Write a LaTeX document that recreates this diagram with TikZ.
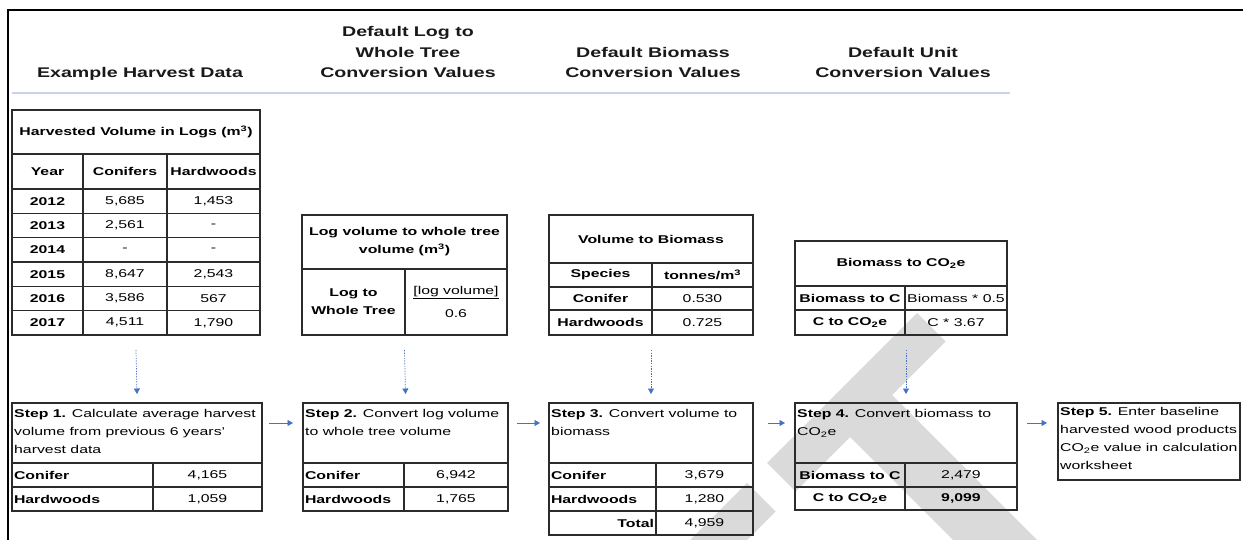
\documentclass[tikz,border=0pt]{standalone}
\usepackage{fontspec}
\setmainfont{Liberation Sans}[FakeStretch=1.4]
\usetikzlibrary{arrows.meta}
\definecolor{arrowblue}{HTML}{4472C4}
\definecolor{ruleblue}{HTML}{C5D3EC}
\definecolor{gridcol}{HTML}{2B2B2B}
\definecolor{wmgray}{HTML}{DADADA}
\newcommand\myhdr{\fontsize{14}{21}\selectfont\bfseries}
\newcommand\mytab{\fontsize{11.3}{18}\selectfont}
\newcommand\ccell[7][]{\node[cell,minimum width=#5pt,minimum height=#6pt,#1] (#2) at (#3,#4) {#7};}
\newcommand\acell[8][]{\pgfmathsetmacro\cw{#5-4}\node[cell,text width=\cw pt,minimum height=#6pt,align=#7,#1] (#2) at (#3,#4) {#8};}
\begin{document}
\begin{tikzpicture}[x=1pt,y=-1pt,
  cell/.style={draw=gridcol,line width=1.1pt,anchor=north west,inner xsep=2pt,inner ysep=1pt,outer sep=0pt,font=\mytab,align=center,text=black},
  bf/.style={font=\mytab\bfseries},
  boxnode/.style={draw=gridcol,line width=1.1pt,anchor=north west,inner sep=0pt,outer sep=0pt},
  tabbox/.style={anchor=north west,inner sep=0pt,outer sep=0pt},
  steptext/.style={anchor=north west,align=left,inner sep=0pt,font=\mytab,text=black},
  hdr/.style={anchor=base,inner sep=0pt,font=\myhdr,text=black!90},
  darrow/.style={draw=arrowblue,line width=0.7pt,dash pattern=on 1.3pt off 1.3pt,-{Triangle[length=5.5pt,width=6pt,fill=arrowblue]}},
  harrow/.style={draw=arrowblue,line width=0.9pt,-{Triangle[length=5.5pt,width=6pt,fill=arrowblue]}},
  frame/.style={draw=black,line width=2pt},
  watermark/.style={fill=wmgray}
]
\useasboundingbox[fill=white] (0,0) rectangle (1243,540);
% watermark letters (partial "F" and "T", rotated)
\fill[watermark] (690,540) -- (747,483) -- (775.5,511.5) -- (747,540) -- cycle;
\fill[watermark] (767,463) -- (917,313) -- (945.5,341.5) -- (892,395) -- (1037,540) -- (953,540) -- (850,437) -- (795.5,491.5) -- cycle;
% page frame
\draw[frame] (8,540) -- (8,10) -- (1243,10);
% headers
\node[hdr] (h1) at (140,78) {Example Harvest Data};
\node[hdr] (h2a) at (408,37) {Default Log to};
\node[hdr] (h2b) at (408,58) {Whole Tree};
\node[hdr] (h2c) at (408,78) {Conversion Values};
\node[hdr] (h3a) at (653,58) {Default Biomass};
\node[hdr] (h3b) at (653,78) {Conversion Values};
\node[hdr] (h4a) at (903,58) {Default Unit};
\node[hdr] (h4b) at (903,78) {Conversion Values};
\draw[draw=ruleblue,line width=1.5pt] (12,93) -- (1010,93);

% table 1
\node[tabbox,minimum width=248pt,minimum height=225pt] (tab1) at (12,110) {};
\ccell[bf]{t1title}{12}{110}{248}{44}{Harvested Volume in Logs (m\textsuperscript{3})}
\ccell[bf]{t1year}{12}{154}{71}{35}{Year}
\ccell[bf]{t1conif}{83}{154}{84}{35}{Conifers}
\ccell[bf]{t1hard}{167}{154}{93}{35}{Hardwoods}
\ccell[bf]{t1y12}{12}{189}{71}{24.33}{2012}
\ccell{t1c12}{83}{189}{84}{24.33}{5,685}
\ccell{t1h12}{167}{189}{93}{24.33}{1,453}
\ccell[bf]{t1y13}{12}{213.33}{71}{24.33}{2013}
\ccell{t1c13}{83}{213.33}{84}{24.33}{2,561}
\ccell{t1h13}{167}{213.33}{93}{24.33}{-}
\ccell[bf]{t1y14}{12}{237.67}{71}{24.33}{2014}
\ccell{t1c14}{83}{237.67}{84}{24.33}{-}
\ccell{t1h14}{167}{237.67}{93}{24.33}{-}
\ccell[bf]{t1y15}{12}{262}{71}{24.33}{2015}
\ccell{t1c15}{83}{262}{84}{24.33}{8,647}
\ccell{t1h15}{167}{262}{93}{24.33}{2,543}
\ccell[bf]{t1y16}{12}{286.33}{71}{24.33}{2016}
\ccell{t1c16}{83}{286.33}{84}{24.33}{3,586}
\ccell{t1h16}{167}{286.33}{93}{24.33}{567}
\ccell[bf]{t1y17}{12}{310.67}{71}{24.33}{2017}
\ccell{t1c17}{83}{310.67}{84}{24.33}{4,511}
\ccell{t1h17}{167}{310.67}{93}{24.33}{1,790}

% table 2
\node[tabbox,minimum width=205pt,minimum height=120pt] (tab2) at (302,215) {};
\ccell[bf]{t2title}{302}{215}{205}{54}{Log volume to whole tree\\volume (m\textsuperscript{3})}
\ccell[bf]{t2l}{302}{269}{103}{66}{Log to\\Whole Tree}
\ccell{t2r}{405}{269}{102}{66}{\underline{[log volume]}\\[5pt]0.6}

% table 3
\node[tabbox,minimum width=204pt,minimum height=120pt] (tab3) at (549,215) {};
\ccell[bf]{t3title}{549}{215}{204}{48}{Volume to Biomass}
\ccell[bf]{t3sp}{549}{263}{103}{24}{Species}
\ccell[bf]{t3un}{652}{263}{101}{24}{tonnes/m\textsuperscript{3}}
\ccell[bf]{t3c}{549}{287}{103}{23}{Conifer}
\ccell{t3cv}{652}{287}{101}{23}{0.530}
\ccell[bf]{t3h}{549}{310}{103}{25}{Hardwoods}
\ccell{t3hv}{652}{310}{101}{25}{0.725}

% table 4
\node[tabbox,minimum width=212pt,minimum height=94pt] (tab4) at (795,241) {};
\ccell[bf]{t4title}{795}{241}{212}{45}{Biomass to CO\textsubscript{2}e}
\ccell[bf]{t4a}{795}{286}{110}{24}{Biomass to C}
\ccell{t4av}{905}{286}{102}{24}{Biomass * 0.5}
\ccell[bf]{t4b}{795}{310}{110}{25}{C to CO\textsubscript{2}e}
\ccell{t4bv}{905}{310}{102}{25}{C * 3.67}

% step 1
\node[boxnode,minimum width=250pt,minimum height=108pt] (step1) at (12,403) {};
\node[steptext] (s1t) at ([xshift=2pt,yshift=-6pt]step1.north west) {\textbf{Step 1.} Calculate average harvest\\volume from previous 6 years'\\harvest data};
\acell[bf]{s1c}{12}{463}{141}{24}{left}{Conifer}
\ccell{s1cv}{153}{463}{109}{24}{4,165}
\acell[bf]{s1h}{12}{487}{141}{24}{left}{Hardwoods}
\ccell{s1hv}{153}{487}{109}{24}{1,059}

% step 2
\node[boxnode,minimum width=205pt,minimum height=108pt] (step2) at (303,403) {};
\node[steptext] (s2t) at ([xshift=2pt,yshift=-6pt]step2.north west) {\textbf{Step 2.} Convert log volume\\to whole tree volume};
\acell[bf]{s2c}{303}{463}{101}{24}{left}{Conifer}
\ccell{s2cv}{404}{463}{104}{24}{6,942}
\acell[bf]{s2h}{303}{487}{101}{24}{left}{Hardwoods}
\ccell{s2hv}{404}{487}{104}{24}{1,765}

% step 3
\node[boxnode,minimum width=204pt,minimum height=132pt] (step3) at (549,403) {};
\node[steptext] (s3t) at ([xshift=2pt,yshift=-6pt]step3.north west) {\textbf{Step 3.} Convert volume to\\biomass};
\acell[bf]{s3c}{549}{463}{107}{24}{left}{Conifer}
\ccell{s3cv}{656}{463}{97}{24}{3,679}
\acell[bf]{s3h}{549}{487}{107}{24}{left}{Hardwoods}
\ccell{s3hv}{656}{487}{97}{24}{1,280}
\acell[bf]{s3t2}{549}{511}{107}{24}{right}{Total}
\ccell{s3tv}{656}{511}{97}{24}{4,959}

% step 4
\node[boxnode,minimum width=222pt,minimum height=107pt] (step4) at (795,403) {};
\node[steptext] (s4t) at ([xshift=2pt,yshift=-6pt]step4.north west) {\textbf{Step 4.} Convert biomass to\\CO\textsubscript{2}e};
\ccell[bf]{s4a}{795}{463}{110}{24}{Biomass to C}
\ccell{s4av}{905}{463}{112}{24}{2,479}
\ccell[bf]{s4b}{795}{487}{110}{23}{C to CO\textsubscript{2}e}
\ccell[bf]{s4bv}{905}{487}{112}{23}{9,099}

% step 5
\node[boxnode,minimum width=182pt,minimum height=77pt] (step5) at (1058,403) {};
\node[steptext] (s5t) at ([xshift=2pt,yshift=-4pt]step5.north west) {\textbf{Step 5.} Enter baseline\\harvested wood products\\CO\textsubscript{2}e value in calculation\\worksheet};

% vertical dotted arrows
\draw[darrow] ([yshift=-15pt]tab1.south) -- ([yshift=9pt]step1.north);
\draw[darrow] ([yshift=-15pt]tab2.south) -- ([yshift=9pt]step2.north);
\draw[darrow] ([yshift=-15pt]tab3.south) -- ([yshift=9pt]step3.north);
\draw[darrow] ([yshift=-15pt]tab4.south -| step4.north) -- ([yshift=9pt]step4.north);

% horizontal arrows
\draw[harrow] ([xshift=7pt,yshift=-20pt]step1.north east) -- ([xshift=-10pt,yshift=-20pt]step2.north west);
\draw[harrow] ([xshift=9pt,yshift=-20pt]step2.north east) -- ([xshift=-9pt,yshift=-20pt]step3.north west);
\draw[harrow] ([xshift=15pt,yshift=-20pt]step3.north east) -- ([xshift=-10pt,yshift=-20pt]step4.north west);
\draw[harrow] ([xshift=10pt,yshift=-20pt]step4.north east) -- ([xshift=-11pt,yshift=-20pt]step5.north west);
\end{tikzpicture}
\end{document}
